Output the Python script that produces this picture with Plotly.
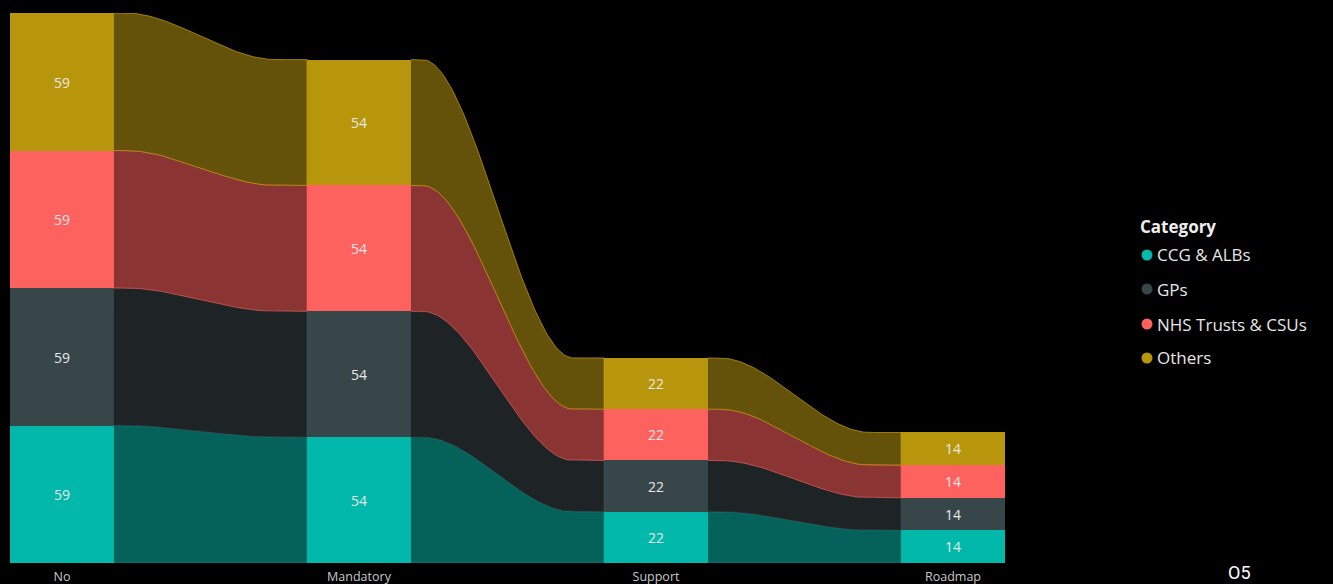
import numpy as np
import plotly.graph_objects as go

categories = ["No", "Mandatory", "Support", "Roadmap"]
series_names = ["CCG & ALBs", "GPs", "NHS Trusts & CSUs", "Others"]
ccg_values = [59, 54, 22, 14]
gps_values = [59, 54, 22, 14]
nhs_values = [59, 54, 22, 14]
others_values = [59, 54, 22, 14]

bar_colors = ["#01B8AA", "#374649", "#FD625E", "#B8960C"]
ribbon_colors = ["#04625B", "#1E2426", "#8A3434", "#64520A"]
line_colors = ["rgba(1,184,170,0.4)", "rgba(80,95,100,0.4)", "rgba(253,98,94,0.6)", "rgba(200,160,15,0.7)"]

values = [ccg_values, gps_values, nhs_values, others_values]
BW = 0.35
FONT = "Segoe UI, Open Sans, Noto Sans, sans-serif"

W, H = 1333, 584
ML, MR, MT, MB = 10, 328, 13, 21
PW, PH = W - ML - MR, H - MT - MB

def px_x(x):
    return (x - ML) / PW

def px_y(y):
    return (H - MB - y) / PH

x_idx = np.arange(len(categories))
vals = np.array(values, dtype=float)
bottoms = np.vstack([np.zeros(len(categories)), np.cumsum(vals, axis=0)[:-1]])
tops = bottoms + vals

def ease(t, a=0.06, b=0.84):
    u = np.clip((t - a) / (b - a), 0, 1)
    return u * u * (3 - 2 * u)

fig = go.Figure()
t = np.linspace(0, 1, 100)
s = ease(t)
for k in range(len(series_names)):
    for i in range(len(categories) - 1):
        x0 = x_idx[i] + BW / 2
        x1 = x_idx[i + 1] - BW / 2
        xs = x0 + (x1 - x0) * t
        top = tops[k, i] + (tops[k, i + 1] - tops[k, i]) * s
        bot = bottoms[k, i] + (bottoms[k, i + 1] - bottoms[k, i]) * s
        fig.add_trace(go.Scatter(
            x=np.concatenate([xs, xs[::-1]]),
            y=np.concatenate([top, bot[::-1]]),
            fill="toself", fillcolor=ribbon_colors[k],
            line=dict(color=line_colors[k], width=1),
            mode="lines", showlegend=False, hoverinfo="skip"))

for k in range(len(series_names)):
    fig.add_trace(go.Bar(
        x=x_idx, y=values[k], width=BW, marker=dict(color=bar_colors[k], line=dict(width=0)),
        text=[str(v) for v in values[k]], textposition="inside", insidetextanchor="middle",
        textfont=dict(color="#E8E8E8", size=14, family=FONT),
        showlegend=False, name=series_names[k]))

# Legend drawn as real text + circle shapes
annotations = [dict(text="<b>Category</b>", x=px_x(1138), y=px_y(226), xref="paper", yref="paper",
                    xanchor="left", yanchor="middle", showarrow=False,
                    font=dict(color="#EDEDED", size=17, family=FONT))]
shapes = []
legend_y = [255, 289, 324, 358]
for k, name in enumerate(series_names):
    yc = legend_y[k]
    annotations.append(dict(text=name, x=px_x(1155), y=px_y(yc), xref="paper", yref="paper",
                            xanchor="left", yanchor="middle", showarrow=False,
                            font=dict(color="#E6E6E6", size=17, family=FONT)))
    shapes.append(dict(type="circle", xref="paper", yref="paper",
                       x0=px_x(1141.5), x1=px_x(1152.5), y0=px_y(yc + 5.5), y1=px_y(yc - 5.5),
                       fillcolor=bar_colors[k], line=dict(width=0)))

annotations.append(dict(text="O5", x=px_x(1239), y=px_y(572), xref="paper", yref="paper",
                        xanchor="center", yanchor="middle", showarrow=False, borderpad=0,
                        font=dict(color="#FFFFFF", size=18, family="Roboto")))

fig.update_layout(
    width=W, height=H,
    paper_bgcolor="#000000", plot_bgcolor="#000000",
    margin=dict(l=ML, r=MR, t=MT, b=MB),
    barmode="stack", bargap=0,
    xaxis=dict(range=[-BW / 2, len(categories) - 1 + BW / 2], tickvals=list(x_idx),
               ticktext=categories, showgrid=False, zeroline=False, showline=False,
               ticks="", tickfont=dict(color="#C8C8C8", size=12.5, family=FONT),
               ticklabelstandoff=4, automargin=False),
    yaxis=dict(range=[0, float(tops[-1].max())], showgrid=False, zeroline=False,
               showline=False, showticklabels=False, ticks="", automargin=False),
    showlegend=False,
    annotations=annotations,
    shapes=shapes,
)

fig.write_html("out.html", config={"displayModeBar": False},
               post_script="document.body.style.margin='0';document.body.style.background='#000';")
